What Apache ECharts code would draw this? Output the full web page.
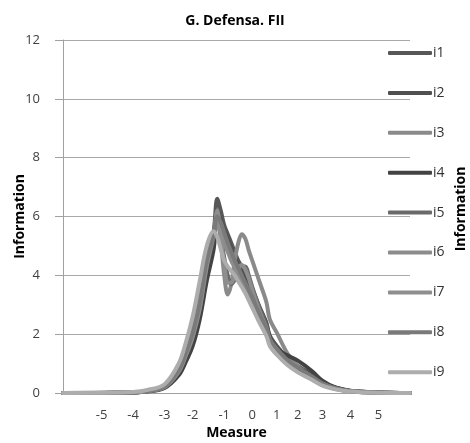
<!DOCTYPE html>
<html>
<head>
<meta charset="utf-8">
<script src="https://cdn.jsdelivr.net/npm/echarts@6/dist/echarts.min.js"></script>
<style>
  html, body { margin: 0; padding: 0; background: #fff; }
  #chart { width: 470px; height: 443px; }
</style>
</head>
<body>
<div id="chart"></div>
<script>
// Labelled positions on the Measure axis
const measureTicks = [-5, -4, -3, -2, -1, 0, 1, 2, 3, 4, 5];
// Number of evaluation steps between consecutive labelled values
const stepsBetweenTicks = [9, 9, 8, 9, 8, 7, 6, 7, 8, 8];
const leadSteps = 11;   // steps below -5 (1/9 each)
const tailSteps = 9;    // steps above 5 (1/8 each)

// Theta values at which item information is sampled
const theta = [-6.2, -4, -3.5, -3, -2.5, -2.25, -2, -1.75, -1.5, -1.375, -1.25, -1.125,
  -1, -0.875, -0.75, -0.625, -0.5, -0.375, -0.25, -0.125, 0, 0.25, 0.5, 0.75,
  1, 1.5, 2, 2.5, 3, 3.5, 4, 5, 6.1];

const i1 = [0, 0.02, 0.07, 0.22, 0.75, 1.3, 2.0, 3.0, 4.4, 5.5, 6.6, 6.2, 5.7, 5.4, 5.1, 4.8, 4.5, 4.3, 4.1, 3.85, 3.55, 2.95, 2.4, 1.95, 1.6, 1.2, 0.92, 0.62, 0.36, 0.18, 0.08, 0.02, 0];
const i2 = [0, 0.02, 0.06, 0.2, 0.7, 1.2, 1.85, 2.8, 4.2, 5.3, 6.2, 5.9, 5.5, 5.2, 4.9, 4.6, 4.35, 4.1, 3.9, 3.7, 3.45, 2.9, 2.35, 1.9, 1.55, 1.15, 0.88, 0.6, 0.35, 0.17, 0.07, 0.02, 0];
const i3 = [0, 0.02, 0.06, 0.2, 0.72, 1.25, 1.9, 2.9, 4.3, 5.4, 6.1, 5.2, 4.0, 3.35, 3.7, 4.5, 5.1, 5.4, 5.25, 4.85, 4.5, 3.8, 3.1, 2.5, 2.05, 1.35, 0.9, 0.55, 0.3, 0.14, 0.06, 0.01, 0];
const i4 = [0, 0.02, 0.05, 0.17, 0.6, 1.05, 1.6, 2.5, 3.8, 4.9, 5.9, 5.7, 5.3, 5.0, 4.7, 4.45, 4.2, 4.0, 3.8, 3.55, 3.3, 2.75, 2.2, 1.8, 1.5, 1.28, 1.1, 0.75, 0.42, 0.17, 0.07, 0.02, 0];
const i5 = [0, 0.02, 0.06, 0.2, 0.75, 1.3, 1.95, 2.9, 4.3, 5.3, 6.0, 5.4, 4.6, 4.0, 3.7, 3.85, 4.15, 4.3, 4.3, 4.0, 3.6, 2.9, 2.3, 1.85, 1.5, 1.1, 0.85, 0.57, 0.33, 0.16, 0.07, 0.02, 0];
const i6 = [0, 0.03, 0.08, 0.27, 0.9, 1.5, 2.3, 3.3, 4.6, 5.4, 5.8, 5.5, 5.1, 4.8, 4.5, 4.25, 4.0, 3.8, 3.6, 3.35, 3.1, 2.55, 2.05, 1.7, 1.4, 1.05, 0.8, 0.5, 0.28, 0.13, 0.05, 0.01, 0];
const i7 = [0, 0.02, 0.06, 0.2, 0.72, 1.25, 1.9, 2.85, 4.3, 5.4, 6.2, 5.3, 4.4, 3.75, 3.75, 4.0, 4.25, 4.35, 4.2, 3.9, 3.5, 2.8, 2.2, 1.8, 1.45, 1.05, 0.8, 0.52, 0.3, 0.14, 0.06, 0.01, 0];
const i8 = [0, 0.02, 0.07, 0.22, 0.78, 1.35, 2.05, 3.05, 4.5, 5.4, 6.0, 5.8, 5.45, 5.1, 4.8, 4.5, 4.25, 4.0, 3.75, 3.5, 3.25, 2.7, 2.2, 1.8, 1.5, 1.12, 0.85, 0.55, 0.32, 0.15, 0.06, 0.02, 0];
const i9 = [0, 0.03, 0.1, 0.3, 1.0, 1.7, 2.6, 3.8, 5.0, 5.5, 5.3, 4.9, 4.5, 4.3, 4.15, 4.0, 3.8, 3.6, 3.4, 3.15, 2.9, 2.4, 1.95, 1.6, 1.3, 0.95, 0.7, 0.45, 0.25, 0.12, 0.05, 0.01, 0];

const itemNames = ['i1', 'i2', 'i3', 'i4', 'i5', 'i6', 'i7', 'i8', 'i9'];
const itemValues = [i1, i2, i3, i4, i5, i6, i7, i8, i9];
const itemColors = ['#575757', '#505050', '#8a8a8a', '#434343', '#6a6a6a', '#8c8c8c', '#8e8e8e', '#7a7a7a', '#adadad'];

// Build the Measure grid (category axis, evenly spaced on screen)
const grid = [];
for (let k = leadSteps; k >= 1; k--) grid.push(measureTicks[0] - k / 9);
for (let i = 0; i < stepsBetweenTicks.length; i++) {
  const a = measureTicks[i], b = measureTicks[i + 1], n = stepsBetweenTicks[i];
  for (let j = 0; j < n; j++) grid.push(a + (b - a) * j / n);
}
grid.push(measureTicks[measureTicks.length - 1]);
for (let k = 1; k <= tailSteps; k++) grid.push(measureTicks[measureTicks.length - 1] + k / 8);

const categories = grid.map(v => String(Math.round(v * 1000) / 1000));
const tickLabels = measureTicks.map(String);

function nearestCategory(t) {
  let best = 0;
  for (let i = 1; i < grid.length; i++) {
    if (Math.abs(grid[i] - t) < Math.abs(grid[best] - t)) best = i;
  }
  return categories[best];
}

const series = itemNames.map((name, s) => ({
  name: name,
  type: 'line',
  smooth: 0.35,
  showSymbol: false,
  symbol: 'none',
  lineStyle: { width: 4, color: itemColors[s], cap: 'round', join: 'round' },
  itemStyle: { color: itemColors[s] },
  data: theta.map((t, k) => [nearestCategory(t), itemValues[s][k]])
}));

const FONT = '"Open Sans", "DejaVu Sans", sans-serif';

const chart = echarts.init(document.getElementById('chart'), null, { renderer: 'canvas' });
chart.setOption({
  backgroundColor: '#ffffff',
  animation: false,
  title: {
    text: 'G. Defensa. FII',
    left: 'center',
    top: 9,
    textStyle: { fontFamily: FONT, fontSize: 14, fontWeight: 'bold', color: '#000' }
  },
  grid: { left: 63, right: 60, top: 40, bottom: 50, containLabel: false, outerBoundsMode: 'none' },
  legend: {
    orient: 'vertical',
    left: 388,
    top: 46,
    itemWidth: 44,
    itemHeight: 4,
    itemGap: 25.9,
    icon: 'roundRect',
    padding: 0,
    data: itemNames,
    textStyle: { fontFamily: FONT, fontSize: 14, color: '#333', padding: [0, 0, 0, -4] }
  },
  xAxis: {
    type: 'category',
    data: categories,
    boundaryGap: false,
    name: 'Measure',
    nameLocation: 'middle',
    nameGap: 33,
    nameMoveOverlap: false,
    nameTextStyle: { fontFamily: FONT, fontSize: 14, fontWeight: 'bold', color: '#000' },
    axisLine: { lineStyle: { color: '#a0a0a0', width: 1 } },
    axisTick: { show: false },
    axisLabel: {
      interval: 0,
      margin: 16,
      fontFamily: FONT,
      fontSize: 13,
      color: '#404040',
      formatter: v => (tickLabels.includes(v) ? v : '')
    },
    splitLine: { show: false }
  },
  yAxis: {
    type: 'value',
    min: 0,
    max: 12,
    interval: 2,
    name: 'Information',
    nameLocation: 'middle',
    nameGap: 36,
    nameMoveOverlap: false,
    nameRotate: 90,
    nameTextStyle: { fontFamily: FONT, fontSize: 14, fontWeight: 'bold', color: '#000' },
    axisLine: { show: true, lineStyle: { color: '#a0a0a0', width: 1 } },
    axisTick: { show: true, length: 8, lineStyle: { color: '#a0a0a0' } },
    axisLabel: { margin: 23, fontFamily: FONT, fontSize: 13, color: '#404040' },
    splitLine: { show: true, lineStyle: { color: '#a8a8a8', width: 1 } }
  },
  graphic: [{
    type: 'text',
    x: 461,
    y: 209,
    rotation: Math.PI / 2,
    style: {
      text: 'Information',
      fontFamily: FONT,
      fontSize: 14,
      fontWeight: 'bold',
      fill: '#000',
      align: 'center',
      verticalAlign: 'middle'
    }
  }],
  series: series
});
</script>
</body>
</html>
